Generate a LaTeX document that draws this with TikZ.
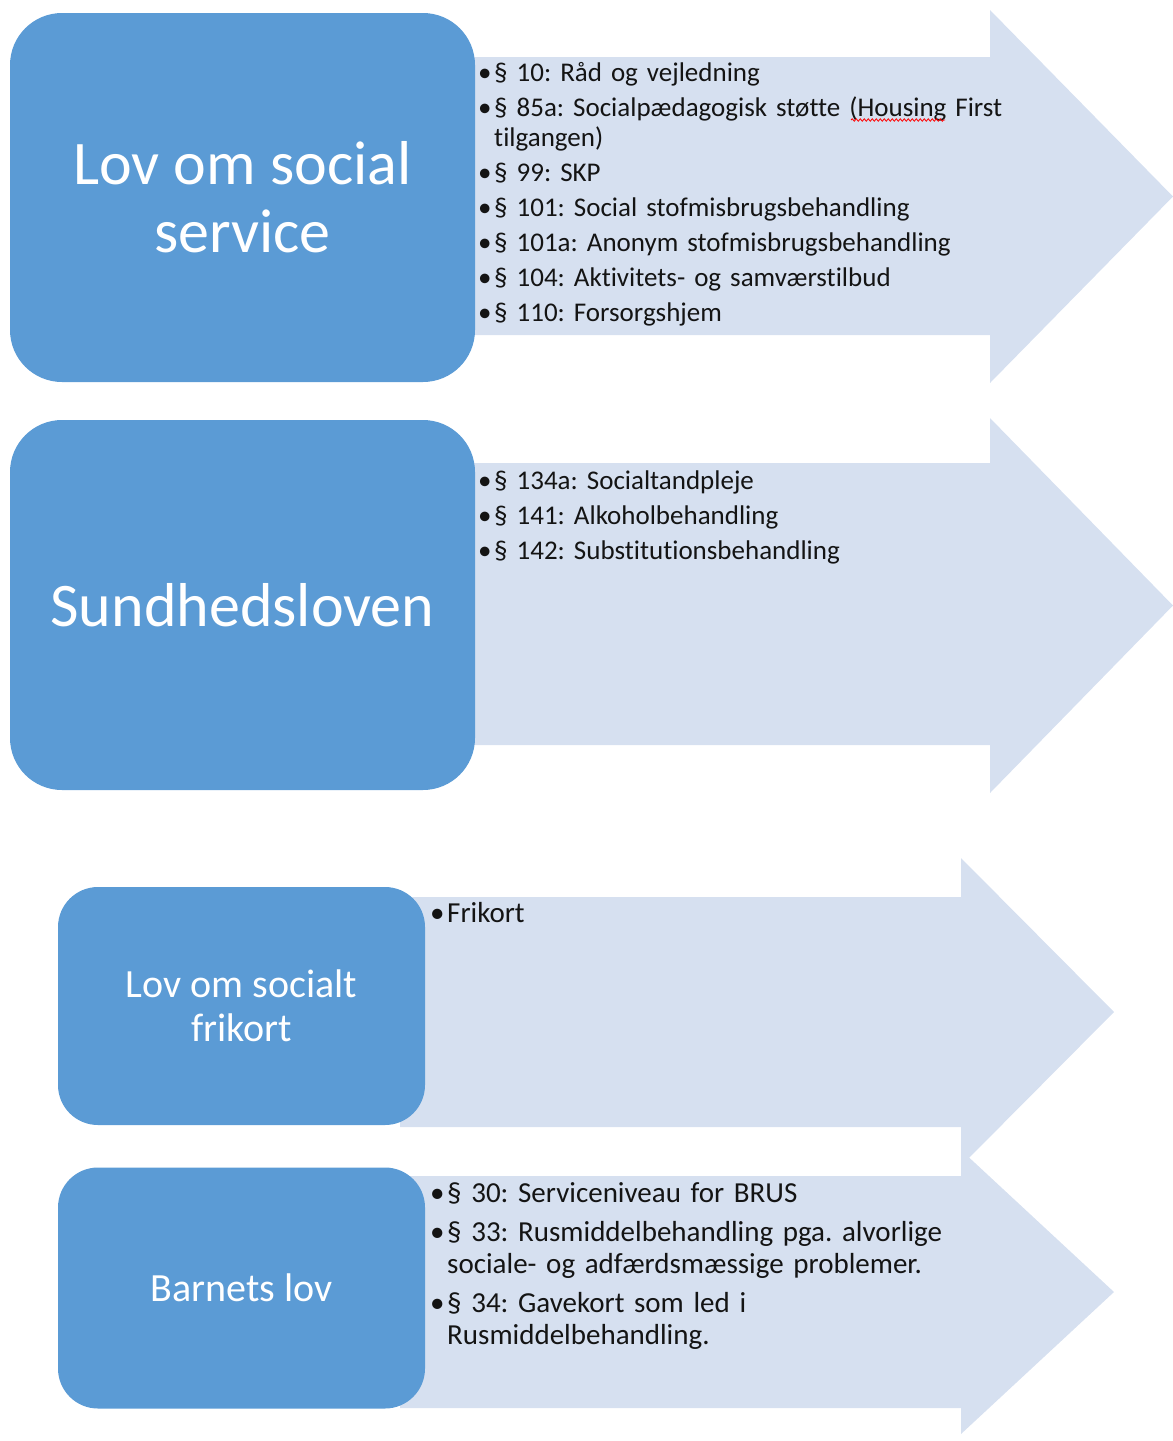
\documentclass[tikz,border=0pt]{standalone}
\usepackage{fontspec}
\setmainfont{Carlito}[Ligatures=NoCommon]
\usetikzlibrary{decorations.pathmorphing}
\definecolor{boxblue}{RGB}{91,155,213}
\definecolor{arrowfill}{RGB}{214,224,240}
\definecolor{listtext}{RGB}{20,20,20}
\newcommand{\itm}[2][16pt]{\hangindent=#1\hangafter=1\noindent\makebox[#1][l]{•}#2\par}
\newcommand{\listsetup}[1]{\frenchspacing\hyphenpenalty=10000\relax\parskip=#1\relax}
\tikzset{
  lawbox/.style={fill=boxblue, draw=none, rounded corners=#1, inner sep=0pt, text=white, align=center},
  flowarrow/.style={fill=arrowfill, draw=none},
  bigtitle/.style={font=\fontsize{62}{68}\selectfont},
  smalltitle/.style={font=\fontsize{40}{44}\selectfont},
  toplist/.style={anchor=base west, inner sep=0pt, text width=#1, align=left, text=listtext,
    font=\fontsize{27}{30}\selectfont\listsetup{5pt}},
  botlist/.style={anchor=base west, inner sep=0pt, text width=#1, align=left, text=listtext,
    font=\fontsize{29}{32}\selectfont\listsetup{7pt}},
  spell/.style={draw=red, line width=0.8pt, decorate, decoration={snake, amplitude=1.2pt, segment length=4pt}}
}
\begin{document}
\begin{tikzpicture}[x=1pt,y=-1pt]
\useasboundingbox (0,0) rectangle (1173,1441);
% arrows
\fill[flowarrow] (440,57) -- (990,57) -- (990,10) -- (1173,196.5) -- (990,383) -- (990,335) -- (440,335) -- cycle;
\fill[flowarrow] (440,463) -- (990,463) -- (990,418) -- (1173,605.5) -- (990,793) -- (990,745) -- (440,745) -- cycle;
\fill[flowarrow] (400,897) -- (961,897) -- (961,858) -- (1114,1012) -- (961,1166) -- (961,1127) -- (400,1127) -- cycle;
\fill[flowarrow] (400,1176) -- (961,1176) -- (961,1150) -- (1114,1292) -- (961,1434) -- (961,1408) -- (400,1408) -- cycle;
% boxes
\node[lawbox=52pt, bigtitle, minimum width=465pt, minimum height=369pt] (b1) at (242.5,197.5) {Lov om social\\service};
\node[lawbox=52pt, bigtitle, minimum width=465pt, minimum height=370pt] (b2) at (242.5,605) {Sundhedsloven};
\node[lawbox=40pt, smalltitle, minimum width=367pt, minimum height=238pt] (b3) at (241.5,1006) {Lov om socialt\\frikort};
\node[lawbox=40pt, smalltitle, minimum width=367pt, minimum height=241pt] (b4) at (241.5,1288) {Barnets lov};
% lists
\node[toplist=525pt] (l1) at (478,81) {%
\itm{§ 10: Råd og vejledning}%
\itm{§ 85a: Socialpædagogisk støtte (Housing First tilgangen)}%
\itm{§ 99: SKP}%
\itm{§ 101: Social stofmisbrugsbehandling}%
\itm{§ 101a: Anonym stofmisbrugsbehandling}%
\itm{§ 104: Aktivitets- og samværstilbud}%
\itm{§ 110: Forsorgshjem}};
\node[toplist=500pt] (l2) at (478,489) {%
\itm{§ 134a: Socialtandpleje}%
\itm{§ 141: Alkoholbehandling}%
\itm{§ 142: Substitutionsbehandling}};
\node[botlist=525pt] (l3) at (430,922) {%
\itm[17pt]{Frikort}};
\node[botlist=525pt] (l4) at (430,1202) {%
\itm[17pt]{§ 30: Serviceniveau for BRUS}%
\itm[17pt]{§ 33: Rusmiddelbehandling pga. alvorlige sociale- og adfærdsmæssige problemer.}%
\itm[17pt]{§ 34: Gavekort som led i Rusmiddelbehandling.}};
\draw[spell] (851,120) -- (945,120);
\end{tikzpicture}
\end{document}
